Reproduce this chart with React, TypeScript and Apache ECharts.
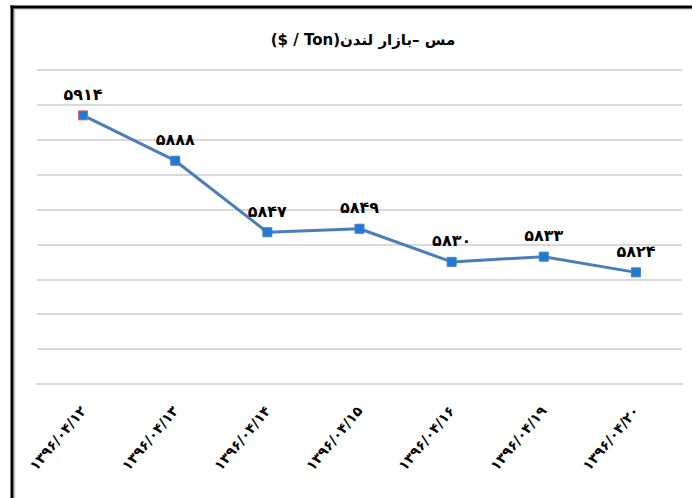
import React, { useEffect, useRef } from "react";
import * as echarts from "echarts";

const categories = [
  "۱۳۹۶/۰۴/۱۲",
  "۱۳۹۶/۰۴/۱۳",
  "۱۳۹۶/۰۴/۱۴",
  "۱۳۹۶/۰۴/۱۵",
  "۱۳۹۶/۰۴/۱۶",
  "۱۳۹۶/۰۴/۱۹",
  "۱۳۹۶/۰۴/۲۰",
];
const values = [5914, 5888, 5847, 5849, 5830, 5833, 5824];
const titleText = "($ / Ton)مس –بازار لندن";

const toPersian = (n: number) =>
  String(n).replace(/[0-9]/g, (d) => "۰۱۲۳۴۵۶۷۸۹"[Number(d)]);

export default function App() {
  const ref = useRef<HTMLDivElement>(null);
  useEffect(() => {
    if (!ref.current) return;
    const chart = echarts.init(ref.current, null, { renderer: "svg" });
    const font = "'DejaVu Sans', sans-serif";
    chart.setOption({
      animation: false,
      backgroundColor: "#ffffff",
      title: {
        text: titleText,
        left: 358,
        textAlign: "center",
        top: 27,
        textStyle: { fontFamily: font, fontWeight: "bold", fontSize: 15, color: "#000" },
      },
      grid: { left: 37, right: 10, top: 70, bottom: 114 },
      xAxis: {
        type: "category",
        data: categories,
        boundaryGap: true,
        axisLine: { lineStyle: { color: "#d9d9d9", width: 2 } },
        axisTick: { show: false },
        axisLabel: {
          rotate: 50,
          margin: 24,
          interval: 0,
          fontFamily: font,
          fontWeight: "bold",
          fontSize: 14,
          color: "#000",
        },
      },
      yAxis: {
        type: "value",
        min: 5760,
        max: 5940,
        interval: 20,
        axisLine: { show: false },
        axisTick: { show: false },
        axisLabel: { show: false },
        splitLine: { lineStyle: { color: "#d9d9d9", width: 2 } },
      },
      series: [
        {
          type: "line",
          data: values.map((v, i) =>
            i === 0
              ? { value: v, itemStyle: { borderColor: "#e06060" } }
              : { value: v }
          ),
          symbol: "rect",
          symbolSize: 9,
          lineStyle: { color: "#4a7ebb", width: 3 },
          itemStyle: { color: "#1f7ad6", borderColor: "#4a7ebb", borderWidth: 1 },
          label: {
            show: true,
            position: "top",
            distance: 8,
            formatter: (p: any) => toPersian(p.value),
            fontFamily: font,
            fontWeight: "bold",
            fontSize: 16,
            color: "#000",
          },
        },
      ],
      graphic: [
        { type: "line", shape: { x1: 14, y1: 9, x2: 692, y2: 9 }, style: { stroke: "#c8c8c8", lineWidth: 1.5 } },
        { type: "line", shape: { x1: 14.5, y1: 9, x2: 14.5, y2: 498 }, style: { stroke: "#c8c8c8", lineWidth: 1.5 } },
        { type: "line", shape: { x1: 10.5, y1: 7, x2: 692, y2: 7 }, style: { stroke: "#000", lineWidth: 3 } },
        { type: "line", shape: { x1: 12, y1: 5.5, x2: 12, y2: 498 }, style: { stroke: "#000", lineWidth: 3 } },
      ],
    });
    return () => chart.dispose();
  }, []);
  return (
    <div
      ref={ref}
      style={{ position: "fixed", left: 0, top: 0, width: 692, height: 498 }}
    />
  );
}
